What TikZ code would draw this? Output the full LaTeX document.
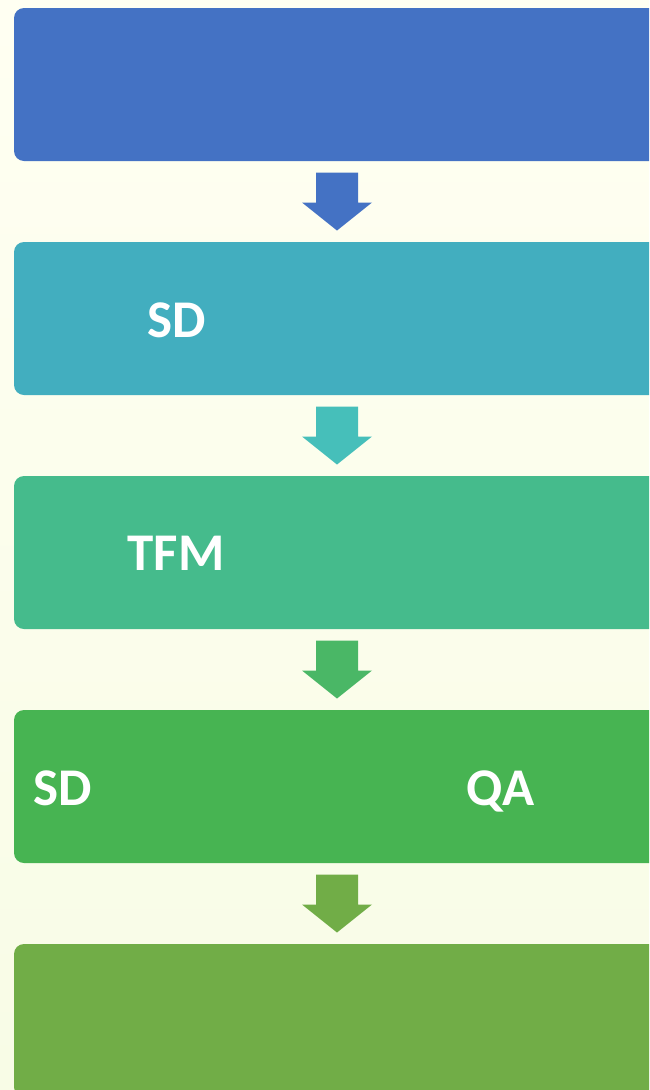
\documentclass[tikz,border=0pt]{standalone}
\usepackage{fontspec}
\setmainfont{Carlito}
\usetikzlibrary{calc}
\definecolor{bgtop}{HTML}{FFFFF2}
\definecolor{bgbot}{HTML}{F8FCE6}
\definecolor{cone}{HTML}{4472C4}
\definecolor{ctwo}{HTML}{42AEBF}
\definecolor{atwo}{HTML}{46BFBA}
\definecolor{cthree}{HTML}{45BB8C}
\definecolor{athree}{HTML}{4AB766}
\definecolor{cfour}{HTML}{47B452}
\definecolor{cfive}{HTML}{71AD47}
\tikzset{
  stagebox/.style={rectangle, rounded corners=10pt, draw=none, inner sep=0pt, outer sep=0pt,
    minimum width=646pt, minimum height=153pt},
  stagelabel/.style={text=white, font=\fontsize{53}{60}\selectfont\bfseries, inner sep=0pt, anchor=base},
  downarrow/.pic={\fill[#1] (-21,-29) -- (21,-29) -- (21,1) -- (35,1) -- (0,29) -- (-35,1) -- (-21,1) -- cycle;}
}
\begin{document}
\begin{tikzpicture}[x=1pt,y=-1pt]
\useasboundingbox (0,0) rectangle (649,1090);
\clip (0,0) rectangle (649,1090);
\fill[top color=bgtop, bottom color=bgbot] (0,0) rectangle (649,1090);
\node[stagebox, fill=cone]   (b1) at (337,84.5)  {};
\node[stagebox, fill=ctwo]   (b2) at (337,318.5) {};
\node[stagebox, fill=cthree] (b3) at (337,552.5) {};
\node[stagebox, fill=cfour]  (b4) at (337,786.5) {};
\node[stagebox, fill=cfive]  (b5) at (337,1020.5) {};
\pic at ($(b1.south)!0.5!(b2.north)$) {downarrow=cone};
\pic at ($(b2.south)!0.5!(b3.north)$) {downarrow=atwo};
\pic at ($(b3.south)!0.5!(b4.north)$) {downarrow=athree};
\pic at ($(b4.south)!0.5!(b5.north)$) {downarrow=cfive};
\node[stagelabel] (t1) at (176.5,337) {SD};
\node[stagelabel] (t2) at (176,570) {TFM};
\node[stagelabel] (t3) at (62.5,805) {SD};
\node[stagelabel] (t4) at (500.5,805) {QA};
\end{tikzpicture}
\end{document}
